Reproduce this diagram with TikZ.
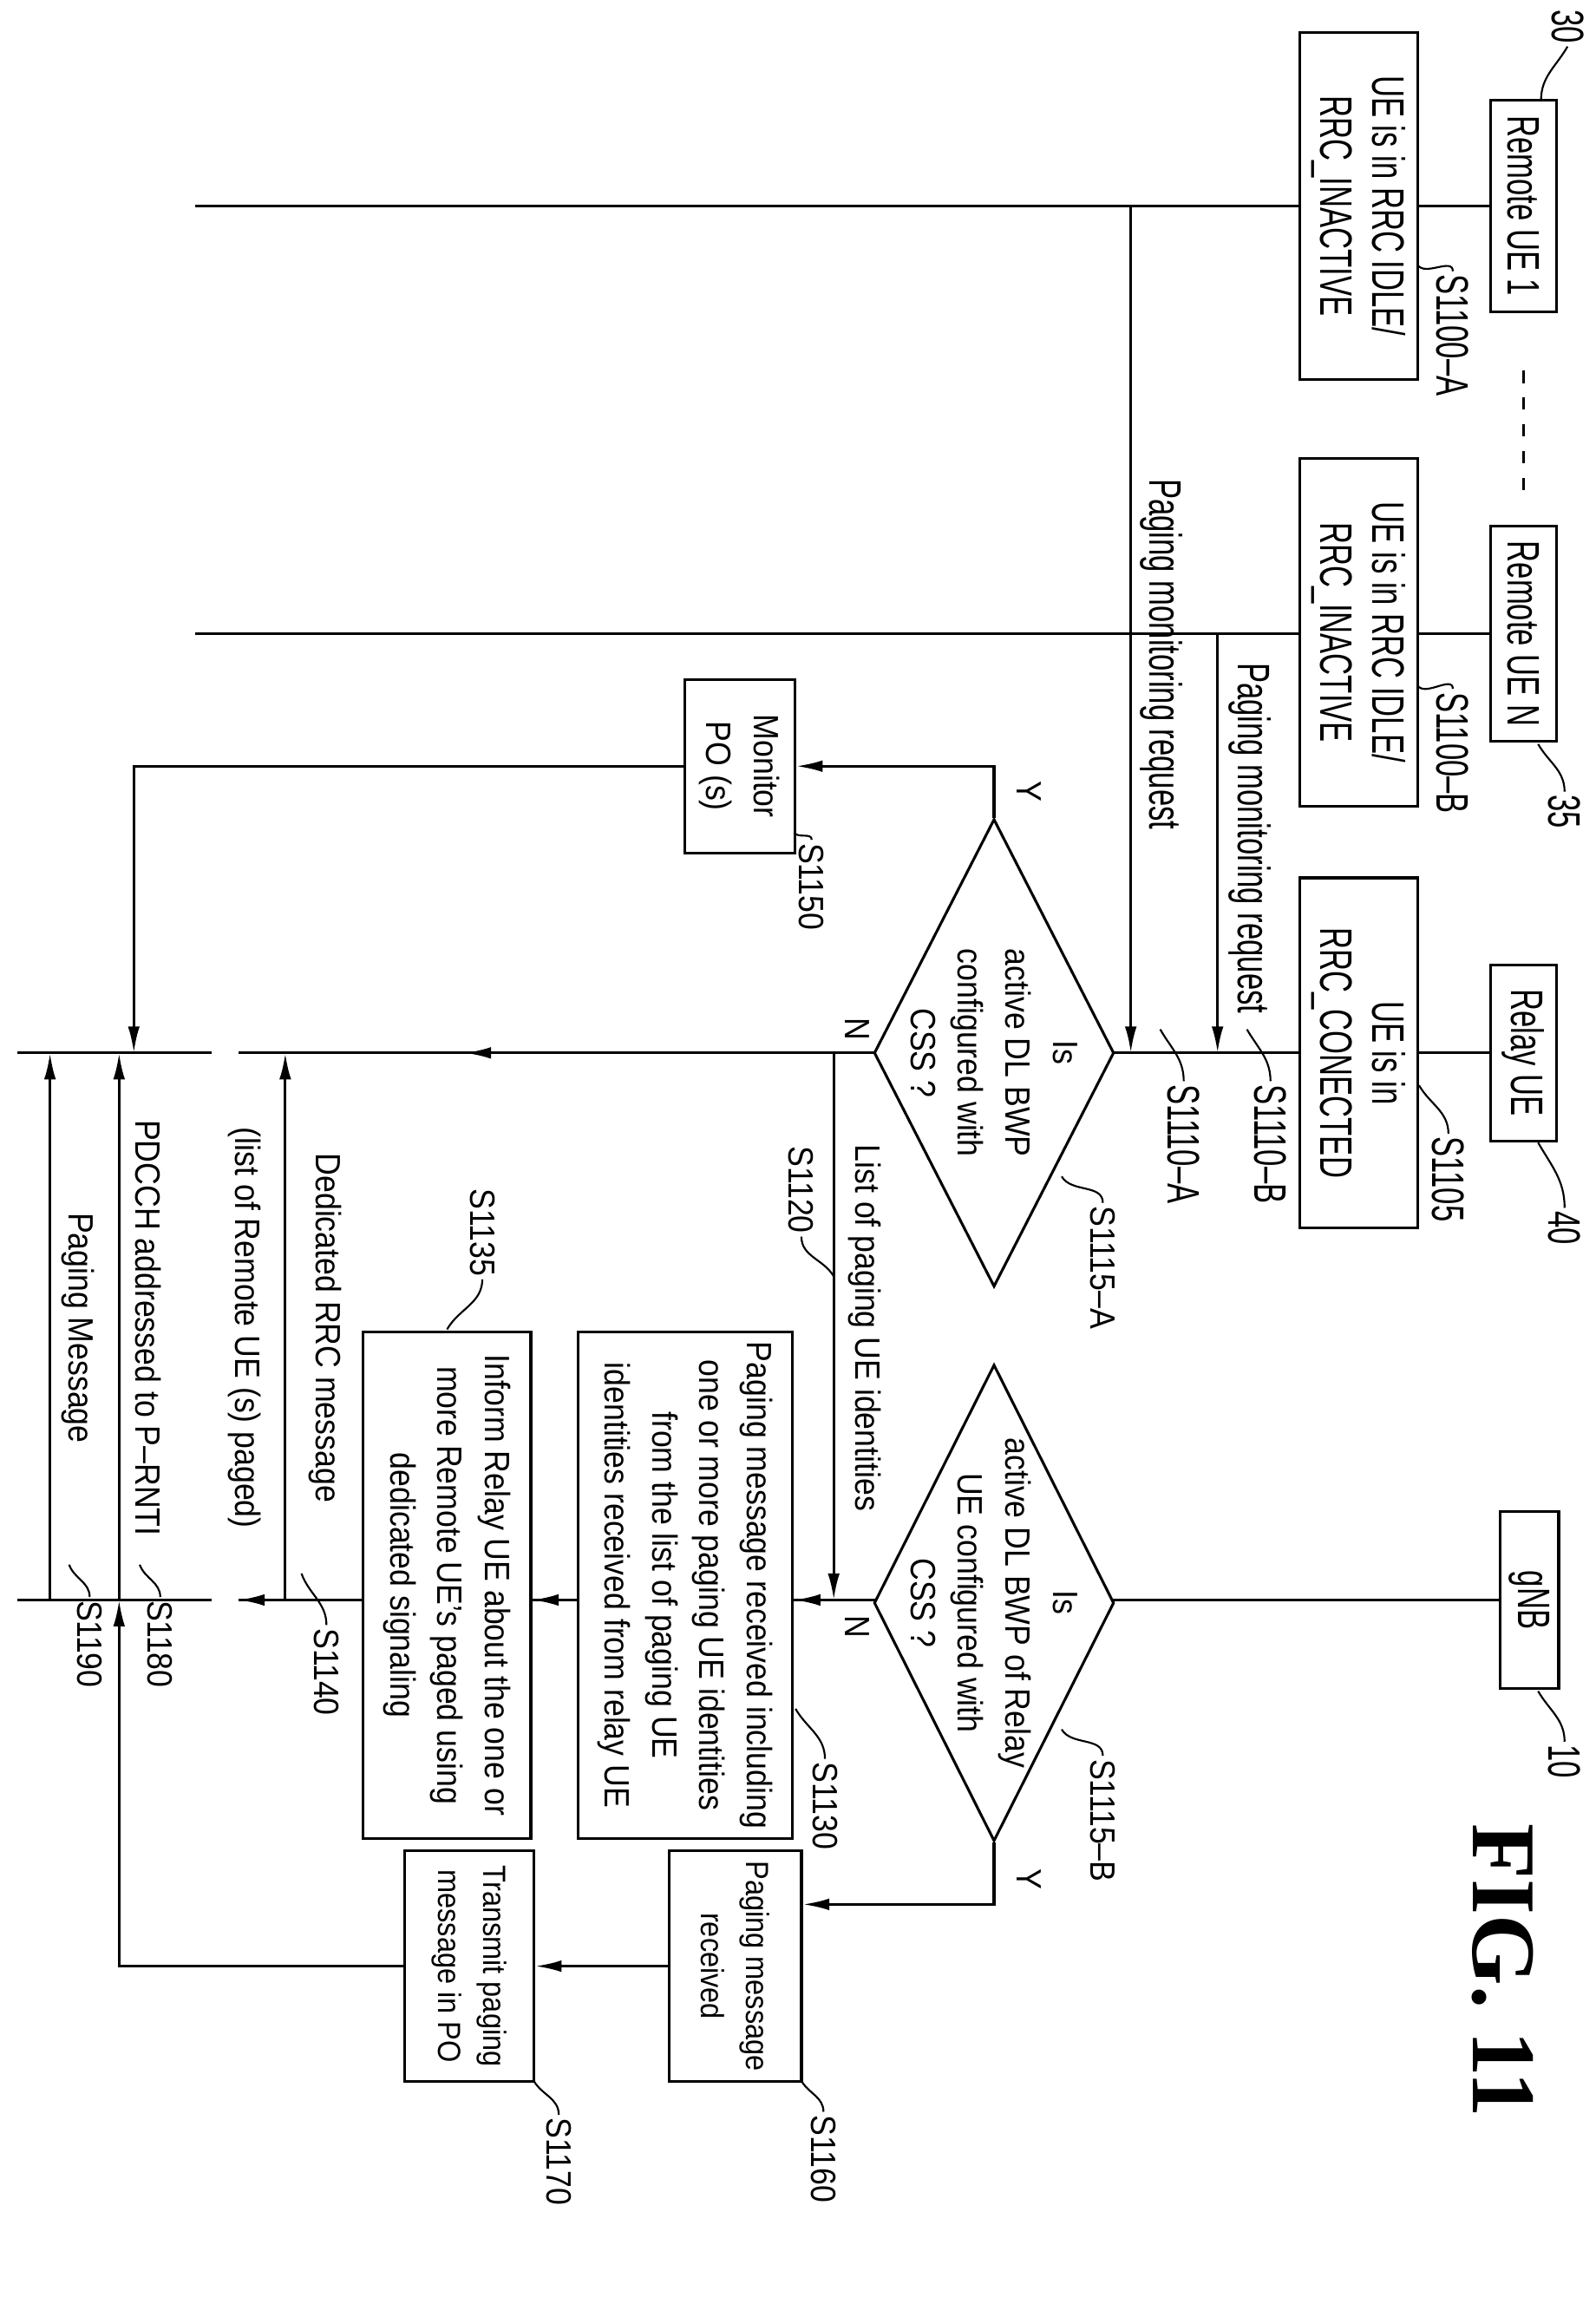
\documentclass[tikz,border=0pt]{standalone}
\usepackage{fontspec}
\setmainfont{Liberation Sans}[FakeStretch=0.88]
\newfontfamily\narrowf{Liberation Sans}[FakeStretch=0.66]
\newfontfamily\figf{Liberation Serif}
\usetikzlibrary{arrows.meta,shapes.geometric,backgrounds}

\begin{document}
\begin{tikzpicture}[x=0.025cm,y=0.025cm,line width=1.3pt,
    >={Latex[length=4.5mm,width=2mm]},
    txt/.style={rotate=-90,align=center,font=\fontsize{17}{23}\selectfont,inner sep=1pt},
    ntxt/.style={rotate=-90,align=center,font=\narrowf\fontsize{22}{25}\selectfont,inner sep=1pt},
    box/.style={draw,fill=white,rectangle,rotate=-90,align=center,inner sep=2pt},
    nbox/.style={box,font=\narrowf\fontsize{22}{25}\selectfont},
    sbox/.style={box,font=\fontsize{17}{23}\selectfont},
    dia/.style={draw,fill=white,diamond,rotate=-90,inner sep=0pt},
    life/.style={line width=1.3pt},
    tag/.style={line width=0.9pt}]

    \useasboundingbox (0,0) rectangle (1085,-1562);

    % entities
    \node[nbox,minimum width=3.6cm,minimum height=1.125cm] (rue1) at (1036,-140) {Remote UE 1};
    \node[nbox,minimum width=3.65cm,minimum height=1.125cm] (ruen) at (1036,-431) {Remote UE N};
    \node[nbox,minimum width=3cm,minimum height=1.125cm] (relay) at (1036,-716) {Relay UE};
    \node[nbox,minimum width=3cm,minimum height=1cm] (gnb) at (1040,-1088) {gNB};
    \draw[line width=1pt,dash pattern=on 6pt off 7pt] (1036,-252) -- (1036,-335);

    \node[ntxt] (t30) at (1066,-18) {30};
    \node[ntxt] (t35) at (1064,-552) {35};
    \node[ntxt] (t40) at (1064,-835) {40};
    \node[ntxt] (t10) at (1064,-1198) {10};
    \draw[tag] (1048,-68) to[out=90,in=-120] (t30.east);
    \draw[tag] (1046,-506) to[out=-60,in=90] (t35.west);
    \draw[tag] (1046,-777) to[out=-60,in=90] (t40.west);
    \draw[tag] (1046,-1150) to[out=-60,in=90] (t10.west);

    % states
    \node[nbox,minimum width=5.9cm,minimum height=2cm] (idle1) at (924,-140) {UE is in RRC IDLE/\\RRC\_INACTIVE};
    \node[nbox,minimum width=5.9cm,minimum height=2cm] (idle2) at (924,-430) {UE is in RRC IDLE/\\RRC\_INACTIVE};
    \node[nbox,minimum width=5.95cm,minimum height=2cm] (conn) at (924,-716) {UE is in\\RRC\_CONECTED};
    \node[ntxt] (s1100a) at (988,-228) {S1100–A};
    \node[ntxt] (s1100b) at (988,-512) {S1100–B};
    \node[ntxt] (s1105) at (985,-802) {S1105};
    \draw[tag] (964,-180) to[out=-60,in=90] (s1100a.west);
    \draw[tag] (964,-466) to[out=-60,in=90] (s1100b.west);
    \draw[tag] (965,-738) to[out=-60,in=90] (s1105.west);

    % lifelines
    \begin{scope}[on background layer]
        \draw[life] (rue1) -- (133,-140);
        \draw[life] (ruen) -- (133,-431);
        \draw[life] (relay) -- (162,-716);
        \draw[life] (12,-716) -- (144,-716);
        \draw[life] (gnb) -- (162,-1088);
        \draw[life] (12,-1088) -- (144,-1088);
    \end{scope}

    % paging monitoring requests
    \draw[->] (769,-140) -- (769,-716);
    \draw[->] (828,-431) -- (828,-716);
    \node[ntxt] (pmra) at (790,-445) {Paging monitoring request};
    \node[ntxt] (pmrb) at (850,-570) {Paging monitoring request};
    \node[ntxt] (s1110a) at (805,-778) {S1110–A};
    \node[ntxt] (s1110b) at (864,-778) {S1110–B};
    \draw[tag] (789,-700) to[out=-60,in=90] (s1110a.west);
    \draw[tag] (848,-700) to[out=-60,in=90] (s1110b.west);

    % decisions
    \node[dia,minimum width=7.95cm,minimum height=4.08cm] (d1) at (676,-716) {};
    \node[txt] at (d1.center) {Is\\active DL BWP\\configured with\\CSS ?};
    \node[dia,minimum width=8.1cm,minimum height=4.08cm] (d2) at (676,-1090) {};
    \node[txt] at (d2.center) {Is\\active DL BWP of Relay\\UE configured with\\CSS ?};
    \node[txt] (s1115a) at (750,-862) {S1115–A};
    \node[txt] (s1115b) at (750,-1238) {S1115–B};
    \draw[tag] (722,-800) to[out=-60,in=90] (s1115a.west);
    \draw[tag] (722,-1176) to[out=-60,in=90] (s1115b.west);

    \node[txt] (y1) at (700,-538) {Y};
    \node[txt] (n1) at (583,-700) {N};
    \node[txt] (y2) at (700,-1278) {Y};
    \node[txt] (n2) at (583,-1106) {N};

    % Y branch, Relay UE
    \node[sbox,minimum width=2.95cm,minimum height=1.875cm] (monitor) at (503,-521) {Monitor\\PO (s)};
    \node[txt] (s1150) at (552,-603) {S1150};
    \draw[tag] (540,-566) to[out=-60,in=90] (s1150.west);
    \draw[->] (d1.west) -- (676,-521) -- (monitor.north);
    \draw[->] (monitor.south) -- (91,-521) -- (91,-716);

    % N branch, Relay UE
    \coordinate (nmid) at (316,-716);
    \draw[->] (d1.south) -- (nmid);
    \draw (nmid) -- (162,-716);
    \coordinate (nj) at (567,-716);
    \draw[->] (nj) -- (567,-1088);
    \node[txt] at (588,-903) {List of paging UE identities};
    \node[txt] (s1120) at (545,-809) {S1120};
    \draw[tag] (567,-868) to[out=120,in=-90] (s1120.east);

    % N branch, gNB
    \node[sbox,minimum width=8.6cm,minimum height=3.65cm] (pmri) at (466,-1078)
        {Paging message received including\\one or more paging UE identities\\from the list of paging UE\\identities received from relay UE};
    \node[sbox,minimum width=8.6cm,minimum height=2.85cm] (inform) at (304,-1078)
        {Inform Relay UE about the one or\\more Remote UE's paged using\\dedicated signaling};
    \draw[->] (567,-1088) -- (pmri.north |- 0,-1088);
    \draw[->] (pmri.south |- 0,-1088) -- (inform.north |- 0,-1088);
    \draw[->] (inform.south |- 0,-1088) -- (162,-1088);
    \node[txt] (s1130) at (561,-1228) {S1130};
    \draw[tag] (541,-1162) to[out=-60,in=90] (s1130.west);
    \node[txt] (s1135) at (328,-838) {S1135};
    \draw[tag] (304,-904) to[out=60,in=-90] (s1135.east);

    \coordinate (rrc) at (194,-1088);
    \draw[->] (rrc) -- (194,-716);
    \node[txt] at (194,-903) {Dedicated RRC message\\[16pt](list of Remote UE (s) paged)};
    \node[txt] (s1140) at (222,-1137) {S1140};
    \draw[tag] (205,-1070) to[out=-70,in=90] (s1140.west);

    % Y branch, gNB
    \node[box,font=\fontsize{15.5}{22}\selectfont,minimum width=3.93cm,minimum height=2.25cm] (pmr) at (500,-1337) {Paging message\\received};
    \node[box,font=\fontsize{15.5}{22}\selectfont,minimum width=3.93cm,minimum height=2.2cm] (tx) at (319,-1337) {Transmit paging\\message in PO};
    \draw[->] (d2.east) -- (676,-1295) -- (pmr.north |- 0,-1295);
    \draw[->] (pmr.south) -- (tx.north);
    \coordinate (pd) at (81,-1088);
    \draw[->] (tx.south) -- (81,-1337) -- (pd);
    \draw[->] (pd) -- (81,-716);
    \node[txt] (s1160) at (560,-1468) {S1160};
    \node[txt] (s1170) at (380,-1470) {S1170};
    \draw[tag] (545,-1415) to[out=-60,in=90] (s1160.west);
    \draw[tag] (363,-1415) to[out=-60,in=90] (s1170.west);

    % gNB to Relay UE
    \node[txt] at (101,-903) {PDCCH addressed to P–RNTI};
    \coordinate (pm) at (34,-1088);
    \draw[->] (pm) -- (34,-716);
    \node[txt] at (53,-903) {Paging Message};
    \node[txt] (s1180) at (109,-1118) {S1180};
    \node[txt] (s1190) at (61,-1118) {S1190};
    \draw[tag] (95,-1064) to[out=-70,in=90] (s1180.west);
    \draw[tag] (47,-1064) to[out=-70,in=90] (s1190.west);

    \node[rotate=-90,font=\figf\bfseries\fontsize{44}{44}\selectfont] (fig) at (1022,-1340) {FIG. 11};

\end{tikzpicture}
\end{document}
